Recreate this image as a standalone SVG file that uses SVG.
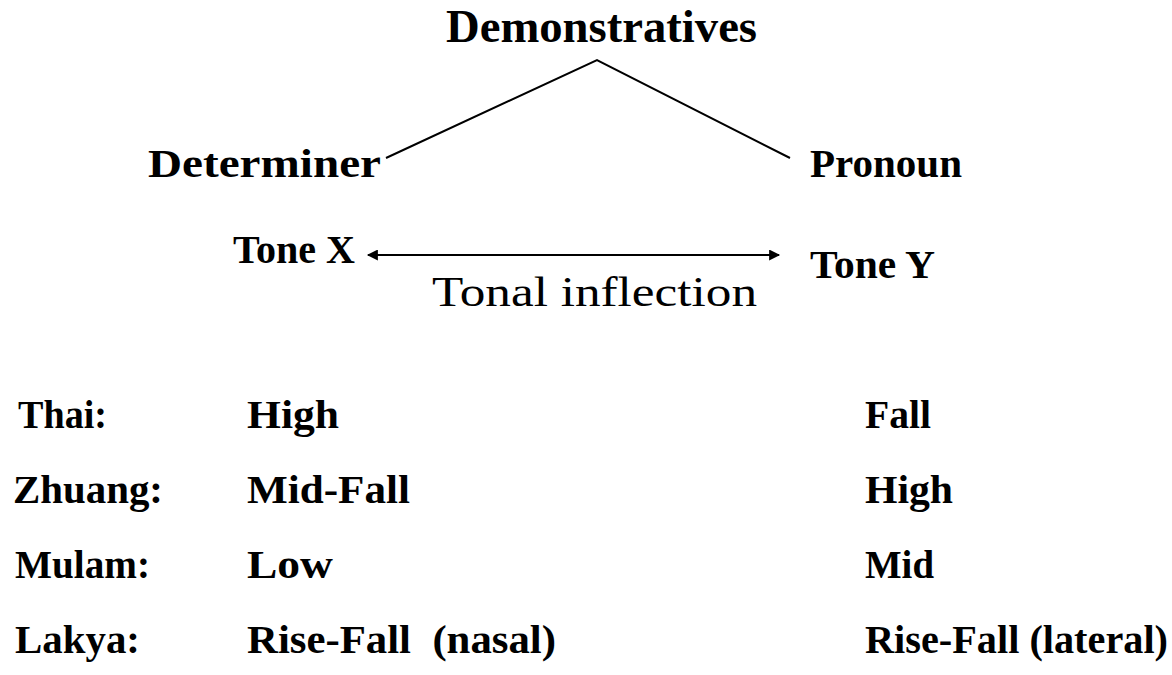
<svg xmlns="http://www.w3.org/2000/svg" width="1172" height="675" viewBox="0 0 1172 675" font-family="'Liberation Serif','Times New Roman',serif">
<style>
text{font-family:"Liberation Serif","Times New Roman",serif;fill:#000}
.b{font-weight:bold;font-size:41px}
.m{font-weight:bold;font-size:40px}
.r{font-size:42px;font-weight:normal}
.t{font-weight:bold;font-size:46px}
.ln{stroke:#000;stroke-width:2;fill:none}
</style>
<defs>
<marker id="ah" viewBox="0 0 10 10" refX="9" refY="5" markerWidth="7" markerHeight="5.5" orient="auto-start-reverse" markerUnits="strokeWidth">
<path d="M0,0 L10,5 L0,10 z" fill="#000"/>
</marker>
</defs>
<rect width="1172" height="675" fill="#fff"/>
<g id="connectors">
<polyline class="ln" points="386,158 597,60 790,158"/>
<line class="ln" x1="368" y1="255" x2="779" y2="255" marker-start="url(#ah)" marker-end="url(#ah)"/>
</g>
<g id="demonstratives"><text class="t" x="446" y="42" textLength="311" lengthAdjust="spacingAndGlyphs">Demonstratives</text></g>
<g id="determiner"><text class="m" x="148" y="177" textLength="233" lengthAdjust="spacingAndGlyphs">Determiner</text></g>
<g id="pronoun"><text class="m" x="810" y="177" textLength="152" lengthAdjust="spacingAndGlyphs">Pronoun</text></g>
<g id="toneX"><text class="m" x="233" y="263" textLength="122" lengthAdjust="spacingAndGlyphs">Tone X</text></g>
<g id="toneY"><text class="m" x="810" y="278" textLength="125" lengthAdjust="spacingAndGlyphs">Tone Y</text></g>
<g id="tonal"><text class="r" x="432" y="306" textLength="325" lengthAdjust="spacingAndGlyphs">Tonal inflection</text></g>
<g id="table">
<text class="b" x="18" y="428" textLength="89" lengthAdjust="spacingAndGlyphs">Thai:</text>
<text class="b" x="247" y="428" textLength="92" lengthAdjust="spacingAndGlyphs">High</text>
<text class="b" x="865" y="428" textLength="66" lengthAdjust="spacingAndGlyphs">Fall</text>
<text class="b" x="13" y="503" textLength="150" lengthAdjust="spacingAndGlyphs">Zhuang:</text>
<text class="b" x="247" y="503" textLength="163" lengthAdjust="spacingAndGlyphs">Mid-Fall</text>
<text class="b" x="865" y="503" textLength="88" lengthAdjust="spacingAndGlyphs">High</text>
<text class="b" x="15" y="578" textLength="135" lengthAdjust="spacingAndGlyphs">Mulam:</text>
<text class="b" x="247" y="578" textLength="86" lengthAdjust="spacingAndGlyphs">Low</text>
<text class="b" x="865" y="578" textLength="69" lengthAdjust="spacingAndGlyphs">Mid</text>
<text class="b" x="15" y="653" textLength="125" lengthAdjust="spacingAndGlyphs">Lakya:</text>
<text class="b" x="247" y="653" textLength="309" lengthAdjust="spacingAndGlyphs" xml:space="preserve">Rise-Fall  (nasal)</text>
<text class="b" x="865" y="653" textLength="303" lengthAdjust="spacingAndGlyphs">Rise-Fall (lateral)</text>
</g>
</svg>
